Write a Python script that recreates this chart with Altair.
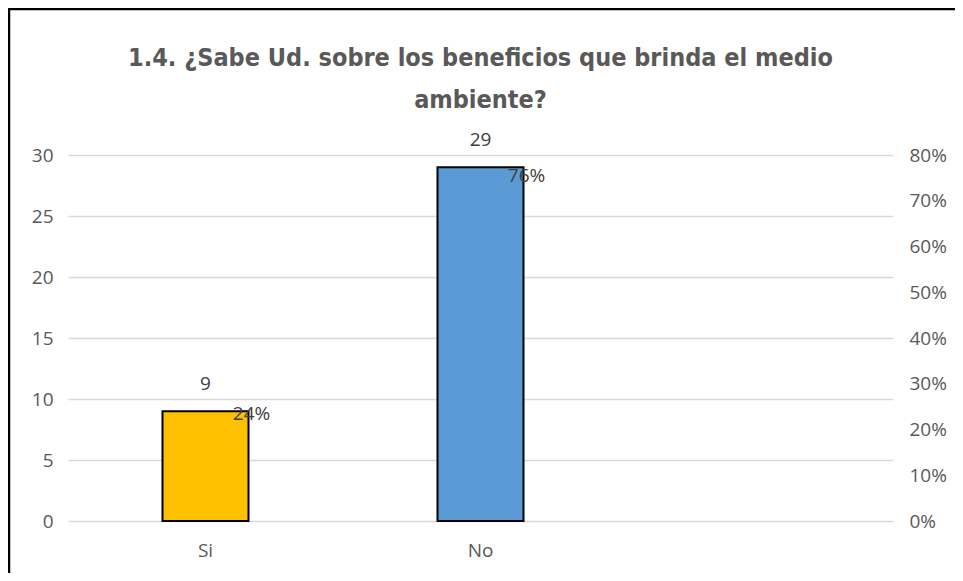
import altair as alt
import pandas as pd

categories = ["Si", "No"]
counts = [9, 29]
percents = [0.24, 0.76]
count_labels = ["9", "29"]
pct_labels = ["24%", "76%"]
bar_colors = ["#FFC000", "#5B9BD5"]
x_domain = ["Si", "No", ""]
left_ticks = [0, 5, 10, 15, 20, 25, 30]
right_ticks = [0, 0.1, 0.2, 0.3, 0.4, 0.5, 0.6, 0.7, 0.8]
title_lines = ["1.4. ¿Sabe Ud. sobre los beneficios que brinda el medio", "ambiente?"]

df = pd.DataFrame({
    "cat": categories,
    "count": counts,
    "pct": percents,
    "clabel": count_labels,
    "plabel": pct_labels,
})

W, H = 825, 366
FONT = "Open Sans"
GREY = "#595959"
FS = 19

x_enc = alt.X("cat:N", sort=x_domain,
              scale=alt.Scale(domain=x_domain, paddingInner=0, paddingOuter=0),
              axis=alt.Axis(title=None, labelAngle=0, ticks=False, domain=False, grid=False,
                            labelFont=FONT, labelFontSize=FS, labelColor=GREY,
                            labelPadding=20))

y_left = alt.Y("count:Q", scale=alt.Scale(domain=[0, 30], nice=False),
               axis=alt.Axis(title=None, values=left_ticks, ticks=False, domain=False,
                             grid=True, gridColor="#D9D9D9", gridWidth=1.3,
                             labelFont=FONT, labelFontSize=FS, labelColor=GREY,
                             labelPadding=15))

base = alt.Chart(df)

bars = base.mark_bar(size=86, stroke="black", strokeWidth=2).encode(
    x=x_enc,
    y=y_left,
    color=alt.Color("cat:N", scale=alt.Scale(domain=categories, range=bar_colors), legend=None),
)

count_text = base.mark_text(baseline="alphabetic", dy=-21, font=FONT, fontSize=FS,
                            color="#404040").encode(
    x=alt.X("cat:N", sort=x_domain), y=alt.Y("count:Q"), text="clabel:N")

left = alt.layer(bars, count_text)

pct_text = base.mark_text(baseline="middle", align="center", dx=46, dy=3, font=FONT,
                          fontSize=FS, color="#404040").encode(
    x=alt.X("cat:N", sort=x_domain),
    y=alt.Y("pct:Q", scale=alt.Scale(domain=[0, 0.8], nice=False),
            axis=alt.Axis(title=None, orient="right", values=right_ticks, format=".0%",
                          ticks=False, domain=False, grid=False,
                          labelFont=FONT, labelFontSize=FS, labelColor=GREY,
                          labelPadding=16)),
    text="plabel:N",
)

frame = alt.Chart(pd.DataFrame({"a": [0]})).mark_rect(
    fill=None, stroke="black", strokeWidth=2.5).encode(
    x=alt.value(-59), x2=alt.value(W + 200), y=alt.value(-146), y2=alt.value(H + 200))

TFONT = "DejaVu Sans Condensed"
t1 = alt.Chart(pd.DataFrame({"t": [title_lines[0]]})).mark_text(
    font=TFONT, fontWeight="bold", fontSize=25, color=GREY,
    align="center", baseline="middle").encode(
    x=alt.value(W / 2), y=alt.value(-97), text="t:N")
t2 = alt.Chart(pd.DataFrame({"t": [title_lines[1]]})).mark_text(
    font=TFONT, fontWeight="bold", fontSize=25, color=GREY,
    align="center", baseline="middle").encode(
    x=alt.value(W / 2), y=alt.value(-55), text="t:N")

chart = alt.layer(left, pct_text, frame, t1, t2).resolve_scale(y="independent").properties(
    width=W, height=H,
    background="white",
    autosize=alt.AutoSizeParams(type="none"),
    padding={"left": 60, "top": 147, "right": 62, "bottom": 52},
).configure_view(stroke="transparent", strokeWidth=0).configure_axis(
    domain=False, ticks=False)

chart.save("out.html", embed_options={"renderer": "svg", "actions": False})
